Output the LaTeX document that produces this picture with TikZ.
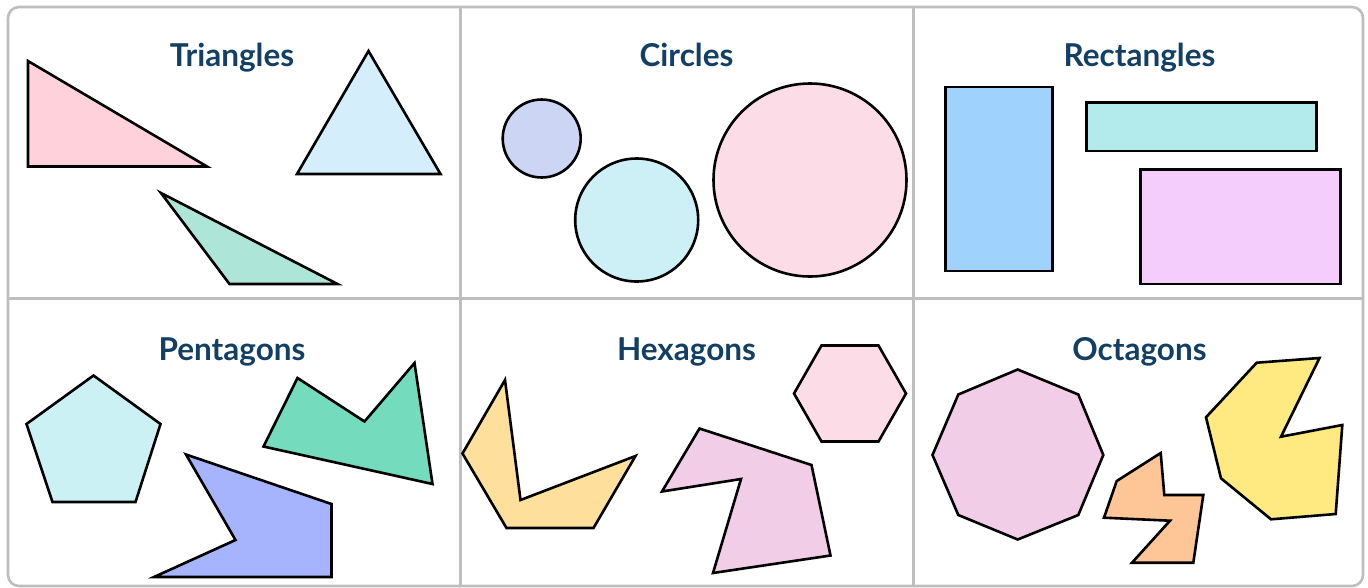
\documentclass[tikz,border=0pt]{standalone}
\usepackage{fontspec}
\setmainfont{Lato}
\begin{document}
\begin{tikzpicture}[x=1pt,y=-1pt,
  frame/.style={draw=gridgray,line width=2.6pt},
  shp/.style={draw=black,line width=2.6pt,line join=miter},
  ttl/.style={text=titleblue,font=\fontsize{31.5}{34}\selectfont\bfseries,anchor=base}]
\definecolor{gridgray}{HTML}{BEBEBE}
\definecolor{titleblue}{HTML}{123F63}
\definecolor{cPinkA}{HTML}{FFD1DB}
\definecolor{cBlueA}{HTML}{D4EFFB}
\definecolor{cGreenA}{HTML}{ADE6D9}
\definecolor{cLav}{HTML}{CCD5F3}
\definecolor{cCyan}{HTML}{CCF0F5}
\definecolor{cPinkB}{HTML}{FCDDE7}
\definecolor{cBlueB}{HTML}{A0D2FE}
\definecolor{cTeal}{HTML}{B3EAEC}
\definecolor{cViolet}{HTML}{F5CDFD}
\definecolor{cPentC}{HTML}{CCF1F5}
\definecolor{cGreenB}{HTML}{74DBBD}
\definecolor{cPeri}{HTML}{A6B3FD}
\definecolor{cYelA}{HTML}{FEDF9B}
\definecolor{cMauve}{HTML}{F2CDE7}
\definecolor{cOrange}{HTML}{FEC597}
\definecolor{cYelB}{HTML}{FEEA80}
\useasboundingbox (0,0) rectangle (1368,587);
% frame
\draw[frame,rounded corners=11pt] (8,7) rectangle (1363,586);
\draw[frame] (460.5,7) -- (460.5,586);
\draw[frame] (913.5,7) -- (913.5,586);
\draw[frame] (8,298.5) -- (1363,298.5);
% titles
\node[ttl] (t1) at (232,66.5) {Triangles};
\node[ttl] (t2) at (686.5,66.5) {Circles};
\node[ttl] (t3) at (1139.5,66.5) {Rectangles};
\node[ttl] (t4) at (232,360.5) {Pentagons};
\node[ttl] (t5) at (686.5,360.5) {Hexagons};
\node[ttl] (t6) at (1139.5,360.5) {Octagons};
% triangles
\filldraw[shp,fill=cPinkA] (28,61) -- (28,166.5) -- (207,166.5) -- cycle;
\filldraw[shp,fill=cBlueA] (368.5,51) -- (440.5,174) -- (297,174) -- cycle;
\filldraw[shp,fill=cGreenA] (161,193) -- (337.5,284) -- (229.5,284) -- cycle;
% circles
\filldraw[shp,fill=cLav] (541.7,138.5) circle (39);
\filldraw[shp,fill=cCyan] (636.7,220) circle (61.5);
\filldraw[shp,fill=cPinkB] (810,180) circle (96.5);
% rectangles
\filldraw[shp,fill=cBlueB] (945.5,87) rectangle (1052.5,271);
\filldraw[shp,fill=cTeal] (1086.5,102.5) rectangle (1316.5,151);
\filldraw[shp,fill=cViolet] (1140.5,169.5) rectangle (1340.5,284);
% pentagons
\filldraw[shp,fill=cPentC] (93.5,375.5) -- (160.5,424) -- (135.5,502) -- (52.5,502) -- (26.5,424) -- cycle;
\filldraw[shp,fill=cGreenB] (297.5,378) -- (364.5,421.5) -- (414.5,363) -- (432.5,484) -- (263.5,446.5) -- cycle;
\filldraw[shp,fill=cPeri] (186,454.5) -- (331.5,504) -- (331.5,577) -- (154,577) -- (235.5,540) -- cycle;
% hexagons
\filldraw[shp,fill=cYelA] (505,380) -- (520.5,500) -- (635.5,456) -- (593.5,528) -- (506.5,528) -- (462.5,453.5) -- cycle;
\filldraw[shp,fill=cPinkB] (821.5,345.5) -- (878.5,345.5) -- (906,393.5) -- (878.5,441.5) -- (821.5,441.5) -- (794,393.5) -- cycle;
\filldraw[shp,fill=cMauve] (699.5,428.5) -- (811.5,465) -- (830.5,555.5) -- (713,573) -- (741,479) -- (662,491.5) -- cycle;
% octagons
\filldraw[shp,fill=cMauve] (1017.7,369.5) -- (1078.3,394.5) -- (1103.3,455) -- (1078.3,515) -- (1017.7,539.5) -- (958.3,515) -- (932.5,455) -- (958.3,394.5) -- cycle;
\filldraw[shp,fill=cOrange] (1160.7,453) -- (1164.3,495) -- (1203.3,495) -- (1193.3,562.7) -- (1132,562.7) -- (1170,520.7) -- (1104,517.7) -- (1116.7,481) -- cycle;
\filldraw[shp,fill=cYelB] (1256.7,362.7) -- (1319.5,358) -- (1281,436.7) -- (1342.3,425) -- (1335.7,514) -- (1271,519.3) -- (1221,478.3) -- (1206,417.3) -- cycle;
\end{tikzpicture}
\end{document}
